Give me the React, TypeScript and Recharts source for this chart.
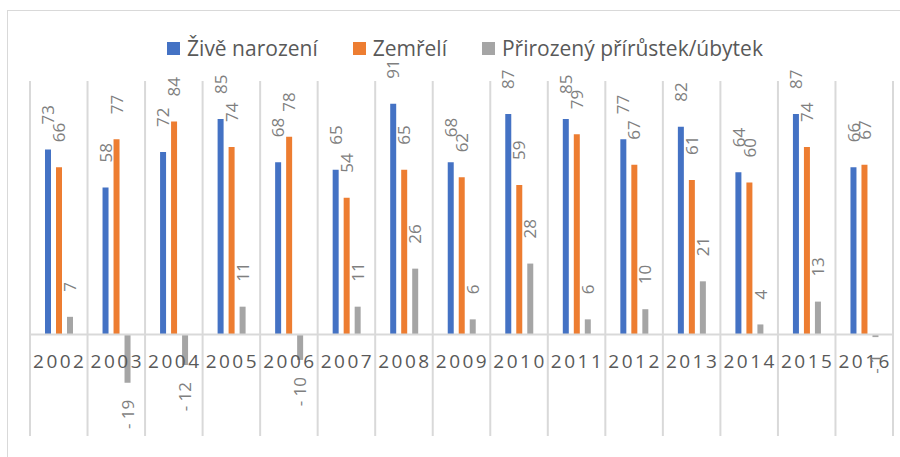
import { BarChart, Bar, XAxis, YAxis, CartesianGrid, ReferenceLine, LabelList } from "recharts";

const years = ["2002", "2003", "2004", "2005", "2006", "2007", "2008", "2009", "2010", "2011", "2012", "2013", "2014", "2015", "2016"];
const births = [73, 58, 72, 85, 68, 65, 91, 68, 87, 85, 77, 82, 64, 87, 66];
const deaths = [66, 77, 84, 74, 78, 54, 65, 62, 59, 79, 67, 61, 60, 74, 67];
const natural = [7, -19, -12, 11, -10, 11, 26, 6, 28, 6, 10, 21, 4, 13, -1];

const seriesKeys = ["births", "deaths", "natural"];
const seriesNames = ["Živě narození", "Zemřelí", "Přirozený přírůstek/úbytek"];
const seriesColors = ["#4472C4", "#ED7D31", "#A5A5A5"];

const data = years.map((year, i) => ({ year, births: births[i], deaths: deaths[i], natural: natural[i] }));

const W = 900;
const H = 457;
const X_AXIS_H = 21;
const MARGIN = { top: 81, right: 7, bottom: 0, left: 30 };
const Y_MIN = -40;
const Y_MAX = 100;
const FONT = "'Open Sans', 'Noto Sans', sans-serif";

function ValueLabel(props: any) {
  const { x, y, width, height, value } = props;
  if (value == null) return null;
  const cx = x + width / 2;
  const top = Math.min(y, y + height);
  const bottom = Math.max(y, y + height);
  const neg = value < 0;
  const ay = neg ? bottom + 17 : top - 25;
  const text = neg ? `- ${Math.abs(value)}` : `${value}`;
  return (
    <text
      x={cx}
      y={ay}
      transform={`rotate(-90 ${cx} ${ay})`}
      textAnchor={neg ? "end" : "start"}
      dy="0.36em"
      fill="#7f7f7f"
      fontSize={17}
      fontFamily={FONT}
    >
      {text}
    </text>
  );
}

function YearTick({ x, payload }: any) {
  const plotH = H - MARGIN.top - X_AXIS_H;
  const zeroY = MARGIN.top + (plotH * Y_MAX) / (Y_MAX - Y_MIN);
  return (
    <text x={x + 1} y={zeroY + 33} textAnchor="middle" fontSize={19} letterSpacing={2.5} fill="#595959" fontFamily={FONT}>
      {payload.value}
    </text>
  );
}

function Legend() {
  return (
    <div
      style={{
        position: "absolute",
        left: 15,
        top: 34,
        width: W,
        display: "flex",
        justifyContent: "center",
        gap: 35,
        fontFamily: FONT,
        fontSize: 21,
        color: "#595959",
        lineHeight: "28px",
      }}
    >
      {seriesNames.map((name, i) => (
        <div key={name} style={{ display: "flex", alignItems: "center" }}>
          <span style={{ width: 13, height: 13, background: seriesColors[i], marginRight: 7, display: "inline-block" }} />
          <span>{name}</span>
        </div>
      ))}
    </div>
  );
}

export default function App() {
  return (
    <div style={{ position: "fixed", left: 0, top: 0, width: W, height: H, overflow: "hidden", background: "#fff" }}>
      <div
        style={{
          position: "absolute",
          left: 7,
          top: 10,
          width: 1000,
          height: 1000,
          border: "1.5px solid #d9d9d9",
        }}
      />
      <Legend />
      <div style={{ position: "absolute", left: 0, top: 0 }}>
        <BarChart width={W} height={H} data={data} margin={MARGIN} barSize={6} barGap={5}>
          <CartesianGrid
            horizontal={false}
            stroke="#d9d9d9"
            strokeWidth={2}
            verticalCoordinatesGenerator={({ offset }: any) =>
              years.map((_, i) => offset.left + (i * offset.width) / years.length).concat(offset.left + offset.width)
            }
          />
          <XAxis dataKey="year" axisLine={false} tickLine={false} height={X_AXIS_H} interval={0} tick={<YearTick />} />
          <YAxis hide domain={[Y_MIN, Y_MAX]} />
          <ReferenceLine y={0} stroke="#d9d9d9" strokeWidth={2} />
          {seriesKeys.map((key, i) => (
            <Bar key={key} dataKey={key} name={seriesNames[i]} fill={seriesColors[i]} isAnimationActive={false}>
              <LabelList dataKey={key} content={<ValueLabel />} />
            </Bar>
          ))}
        </BarChart>
      </div>
    </div>
  );
}
